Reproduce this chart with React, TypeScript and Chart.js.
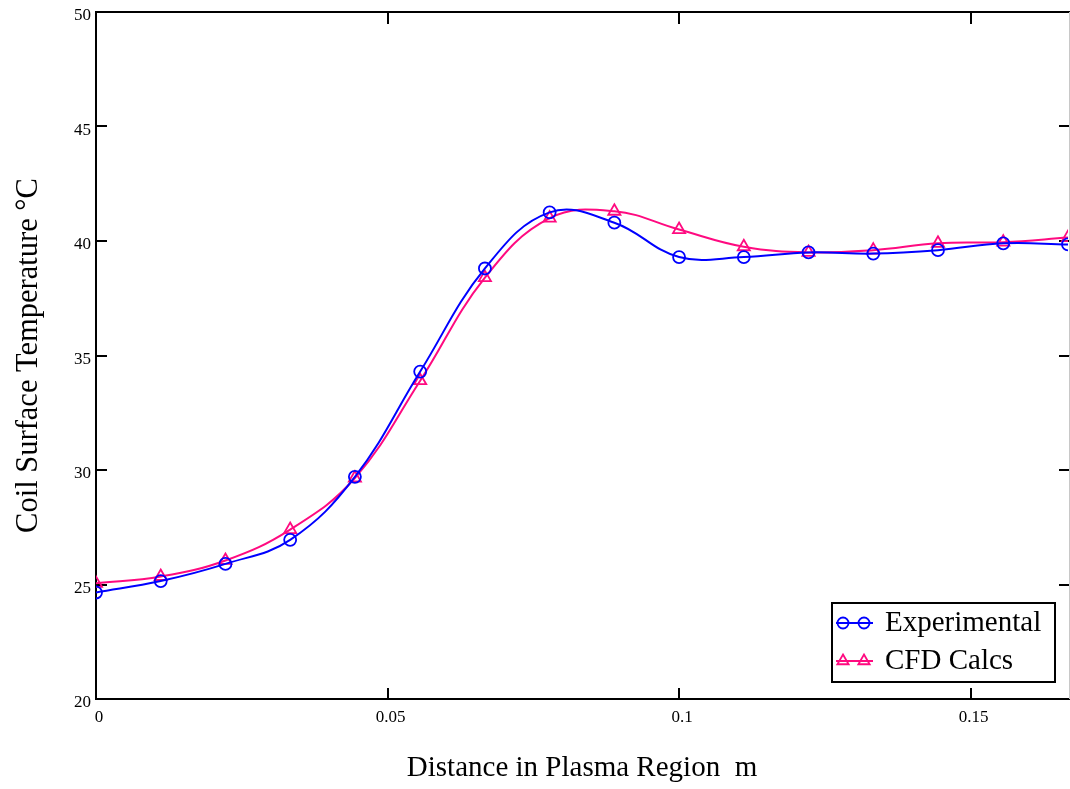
import React, { useEffect, useRef } from "react";
import { Chart, registerables } from "chart.js";

Chart.register(...registerables);

// Distance in plasma region (m)
const distances = [
  0, 0.0111, 0.0222, 0.0333, 0.0444, 0.0556, 0.0667, 0.0778, 0.0889, 0.1, 0.1111,
  0.1222, 0.1333, 0.1444, 0.1556, 0.1667,
];
// Coil surface temperature (°C)
const experimental = [
  24.65, 25.15, 25.9, 26.95, 29.7, 34.3, 38.8, 41.25, 40.8, 39.3, 39.3, 39.5, 39.45,
  39.6, 39.9, 39.85,
];
const cfdCalcs = [
  25.05, 25.35, 26.05, 27.4, 29.65, 33.9, 38.4, 41.0, 41.3, 40.5, 39.75, 39.5, 39.6,
  39.9, 39.95, 40.15,
];
const seriesNames = ["Experimental", "CFD Calcs"];
const xTitle = "Distance in Plasma Region  m";
const yTitle = "Coil Surface Temperature \u00B0C";
const xMin = 0;
const xMax = 0.1667;
const xStep = 0.05;
const yMin = 20;
const yMax = 50;
const yStep = 5;

const BLUE = "#0000FF";
const PINK = "#FF0A80";
const SERIF = "'Liberation Serif', 'Times New Roman', serif";

const framePlugin = {
  id: "frame",
  beforeDatasetsDraw(chart: any) {
    const { ctx, chartArea: a, scales } = chart;
    ctx.save();
    ctx.strokeStyle = "#000";
    ctx.lineWidth = 2;
    ctx.beginPath();
    ctx.moveTo(a.left - 1, a.top);
    ctx.lineTo(a.right + 2, a.top);
    ctx.moveTo(a.left, a.top - 1);
    ctx.lineTo(a.left, a.bottom + 1);
    ctx.moveTo(a.left - 1, a.bottom);
    ctx.lineTo(a.right + 2, a.bottom);
    const tl = 11;
    const yt = scales.y.ticks.map((t: any) => t.value);
    for (const v of yt) {
      if (v <= yMin || v >= yMax) continue;
      const py = Math.round(scales.y.getPixelForValue(v));
      ctx.moveTo(a.left, py);
      ctx.lineTo(a.left + tl, py);
      ctx.moveTo(a.right + 2, py);
      ctx.lineTo(a.right + 2 - tl, py);
    }
    const xt = scales.x.ticks.map((t: any) => t.value);
    for (const v of xt) {
      if (v <= xMin || v >= xMax) continue;
      const px = Math.round(scales.x.getPixelForValue(v));
      ctx.moveTo(px, a.bottom);
      ctx.lineTo(px, a.bottom - tl);
      ctx.moveTo(px, a.top);
      ctx.lineTo(px, a.top + tl + 1);
    }
    ctx.stroke();
    ctx.strokeStyle = "#c8c8c8";
    ctx.lineWidth = 1;
    ctx.beginPath();
    ctx.moveTo(a.right + 1.5, a.top);
    ctx.lineTo(a.right + 1.5, a.bottom);
    ctx.stroke();
    ctx.restore();
  },
};

const legendPlugin = {
  id: "boxLegend",
  afterDraw(chart: any) {
    const { ctx } = chart;
    const bx = 832, by = 603, bw = 223, bh = 79;
    ctx.save();
    ctx.fillStyle = "#fff";
    ctx.fillRect(bx, by, bw, bh);
    ctx.strokeStyle = "#000";
    ctx.lineWidth = 2;
    ctx.strokeRect(bx, by, bw, bh);
    const rows = [
      { y: 623, color: BLUE, style: "circle", name: seriesNames[0] },
      { y: 661, color: PINK, style: "triangle", name: seriesNames[1] },
    ];
    for (const r of rows) {
      ctx.strokeStyle = r.color;
      ctx.lineWidth = 2;
      ctx.beginPath();
      ctx.moveTo(836, r.y);
      ctx.lineTo(873, r.y);
      ctx.stroke();
      ctx.lineWidth = 1.8;
      for (const mx of [843, 864]) {
        ctx.beginPath();
        if (r.style === "circle") {
          ctx.arc(mx, r.y, 5.5, 0, Math.PI * 2);
        } else {
          const rad = 6.5;
          ctx.moveTo(mx, r.y - rad);
          ctx.lineTo(mx + rad * 0.866, r.y + rad * 0.5);
          ctx.lineTo(mx - rad * 0.866, r.y + rad * 0.5);
          ctx.closePath();
        }
        ctx.stroke();
      }
      ctx.fillStyle = "#000";
      ctx.font = `29px ${SERIF}`;
      ctx.textAlign = "left";
      ctx.textBaseline = "middle";
      ctx.fillText(r.name, 885, r.y);
    }
    ctx.restore();
  },
};

export default function App() {
  const canvasRef = useRef<HTMLCanvasElement | null>(null);

  useEffect(() => {
    const canvas = canvasRef.current;
    if (!canvas) return;
    const chart = new Chart(canvas, {
      type: "line",
      data: {
        datasets: [
          {
            label: seriesNames[0],
            data: distances.map((x, i) => ({ x, y: experimental[i] })),
            borderColor: BLUE,
            backgroundColor: "rgba(0,0,0,0)",
            borderWidth: 2,
            pointStyle: "circle",
            pointRadius: 6,
            pointBorderWidth: 1.8,
            pointBorderColor: BLUE,
            pointBackgroundColor: "rgba(0,0,0,0)",
            tension: 0.4,
          },
          {
            label: seriesNames[1],
            data: distances.map((x, i) => ({ x, y: cfdCalcs[i] })),
            borderColor: PINK,
            backgroundColor: "rgba(0,0,0,0)",
            borderWidth: 2,
            pointStyle: "triangle",
            pointRadius: 7,
            pointBorderWidth: 1.8,
            pointBorderColor: PINK,
            pointBackgroundColor: "rgba(0,0,0,0)",
            tension: 0.4,
          },
        ],
      },
      options: {
        responsive: false,
        animation: false,
        devicePixelRatio: 1,
        layout: { autoPadding: false, padding: { top: 12, right: 2, bottom: 0, left: 0 } },
        plugins: {
          legend: { display: false },
          tooltip: { enabled: false },
        },
        scales: {
          x: {
            type: "linear",
            min: xMin,
            max: xMax,
            border: { display: false },
            grid: { display: false, drawTicks: false },
            afterFit: (s: any) => {
              s.height = 90;
              s.paddingLeft = 0;
              s.paddingRight = 0;
            },
            ticks: {
              stepSize: xStep,
              includeBounds: false,
              maxRotation: 0,
              color: "#000",
              padding: 8,
              labelOffset: 3,
              font: { family: SERIF, size: 17 },
              callback: (v: any) => String(Number(Number(v).toFixed(3))),
            },
            title: {
              display: true,
              text: xTitle,
              color: "#000",
              font: { family: SERIF, size: 29 },
              padding: { top: 0, bottom: 3 },
            },
          },
          y: {
            type: "linear",
            min: yMin,
            max: yMax,
            border: { display: false },
            grid: { display: false, drawTicks: false },
            afterFit: (s: any) => {
              s.width = 96;
              s.paddingTop = 0;
              s.paddingBottom = 0;
            },
            ticks: {
              stepSize: yStep,
              color: "#000",
              padding: 5,
              labelOffset: 4,
              font: { family: SERIF, size: 17 },
            },
            title: {
              display: true,
              text: yTitle,
              color: "#000",
              font: { family: SERIF, size: 30.5 },
              padding: { top: 11, bottom: 0 },
            },
          },
        },
      },
      plugins: [framePlugin, legendPlugin],
    } as any);
    return () => chart.destroy();
  }, []);

  return (
    <div style={{ position: "absolute", left: 0, top: 0, width: 1070, height: 789, background: "#fff" }}>
      <canvas ref={canvasRef} width={1070} height={789} style={{ display: "block" }} />
    </div>
  );
}
